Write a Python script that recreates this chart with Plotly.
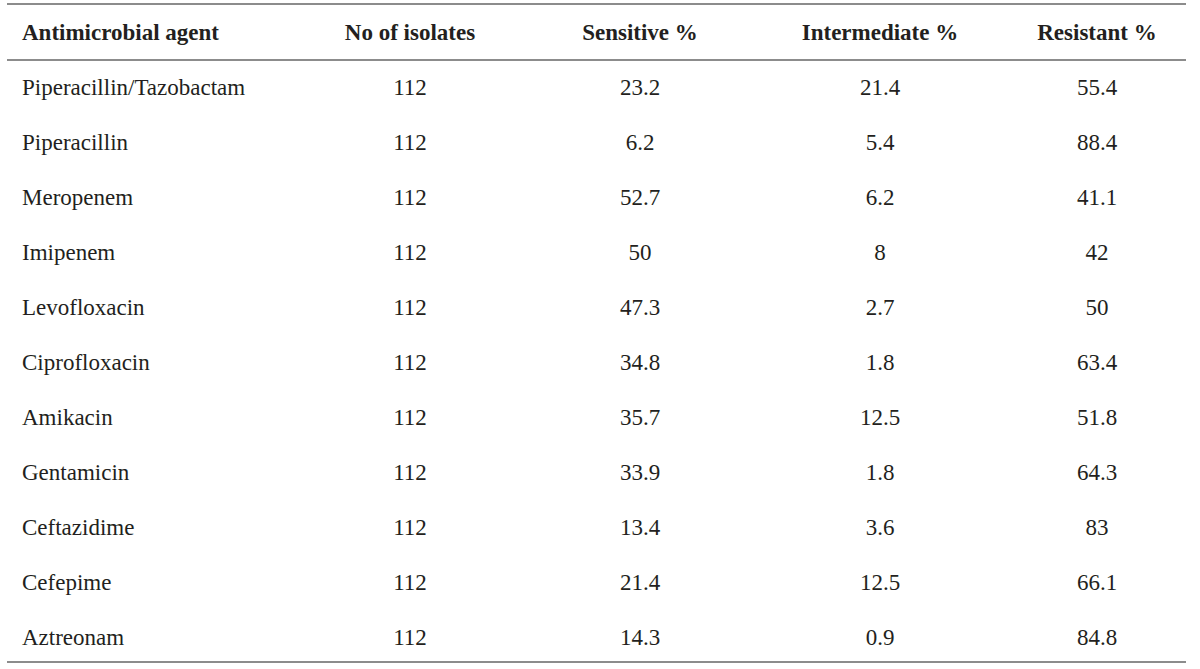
import plotly.graph_objects as go

agents = ["Piperacillin/Tazobactam", "Piperacillin", "Meropenem", "Imipenem",
          "Levofloxacin", "Ciprofloxacin", "Amikacin", "Gentamicin",
          "Ceftazidime", "Cefepime", "Aztreonam"]
isolates = [112, 112, 112, 112, 112, 112, 112, 112, 112, 112, 112]
sensitive = [23.2, 6.2, 52.7, 50, 47.3, 34.8, 35.7, 33.9, 13.4, 21.4, 14.3]
intermediate = [21.4, 5.4, 6.2, 8, 2.7, 1.8, 12.5, 1.8, 3.6, 12.5, 0.9]
resistant = [55.4, 88.4, 41.1, 42, 50, 63.4, 51.8, 64.3, 83, 66.1, 84.8]
headers = ["Antimicrobial agent", "No of isolates", "Sensitive %", "Intermediate %", "Resistant %"]

W, H = 1200, 669
FONT = "Liberation Serif, Times New Roman, serif"
TXT = "#231f20"
FS = 23
col_x = [22, 410, 640, 880, 1097]
row0, row_step = 89, 55
header_y = 34
rows_y = [row0 + row_step * i for i in range(len(agents))]

fmt = lambda v: f"{v:g}"
columns = [agents, [fmt(v) for v in isolates], [fmt(v) for v in sensitive],
           [fmt(v) for v in intermediate], [fmt(v) for v in resistant]]

fig = go.Figure()
for ci, (hx, head, vals) in enumerate(zip(col_x, headers, columns)):
    pos = "middle right" if ci == 0 else "middle center"
    fig.add_trace(go.Scatter(
        x=[hx], y=[header_y], mode="text", text=[f"<b>{head}</b>"],
        textposition=pos, textfont=dict(family=FONT, size=FS, color=TXT),
        hoverinfo="skip", showlegend=False))
    fig.add_trace(go.Scatter(
        x=[hx] * len(vals), y=rows_y, mode="text", text=vals,
        textposition=pos, textfont=dict(family=FONT, size=FS, color=TXT),
        hoverinfo="skip", showlegend=False))

line_style = dict(color="#8c8c8c", width=2)
for ly in [4, 60, 662]:
    fig.add_shape(type="line", xref="x", yref="y", x0=7, x1=1186, y0=ly, y1=ly, line=line_style)

fig.update_layout(
    width=W, height=H, margin=dict(l=0, r=0, t=0, b=0),
    paper_bgcolor="white", plot_bgcolor="white",
    xaxis=dict(range=[0, W], visible=False, fixedrange=True),
    yaxis=dict(range=[H, 0], visible=False, fixedrange=True),
)
fig.write_html("out.html", config={"displayModeBar": False},
               post_script="document.body.style.margin='0';document.body.style.padding='0';document.body.style.overflow='hidden';")
